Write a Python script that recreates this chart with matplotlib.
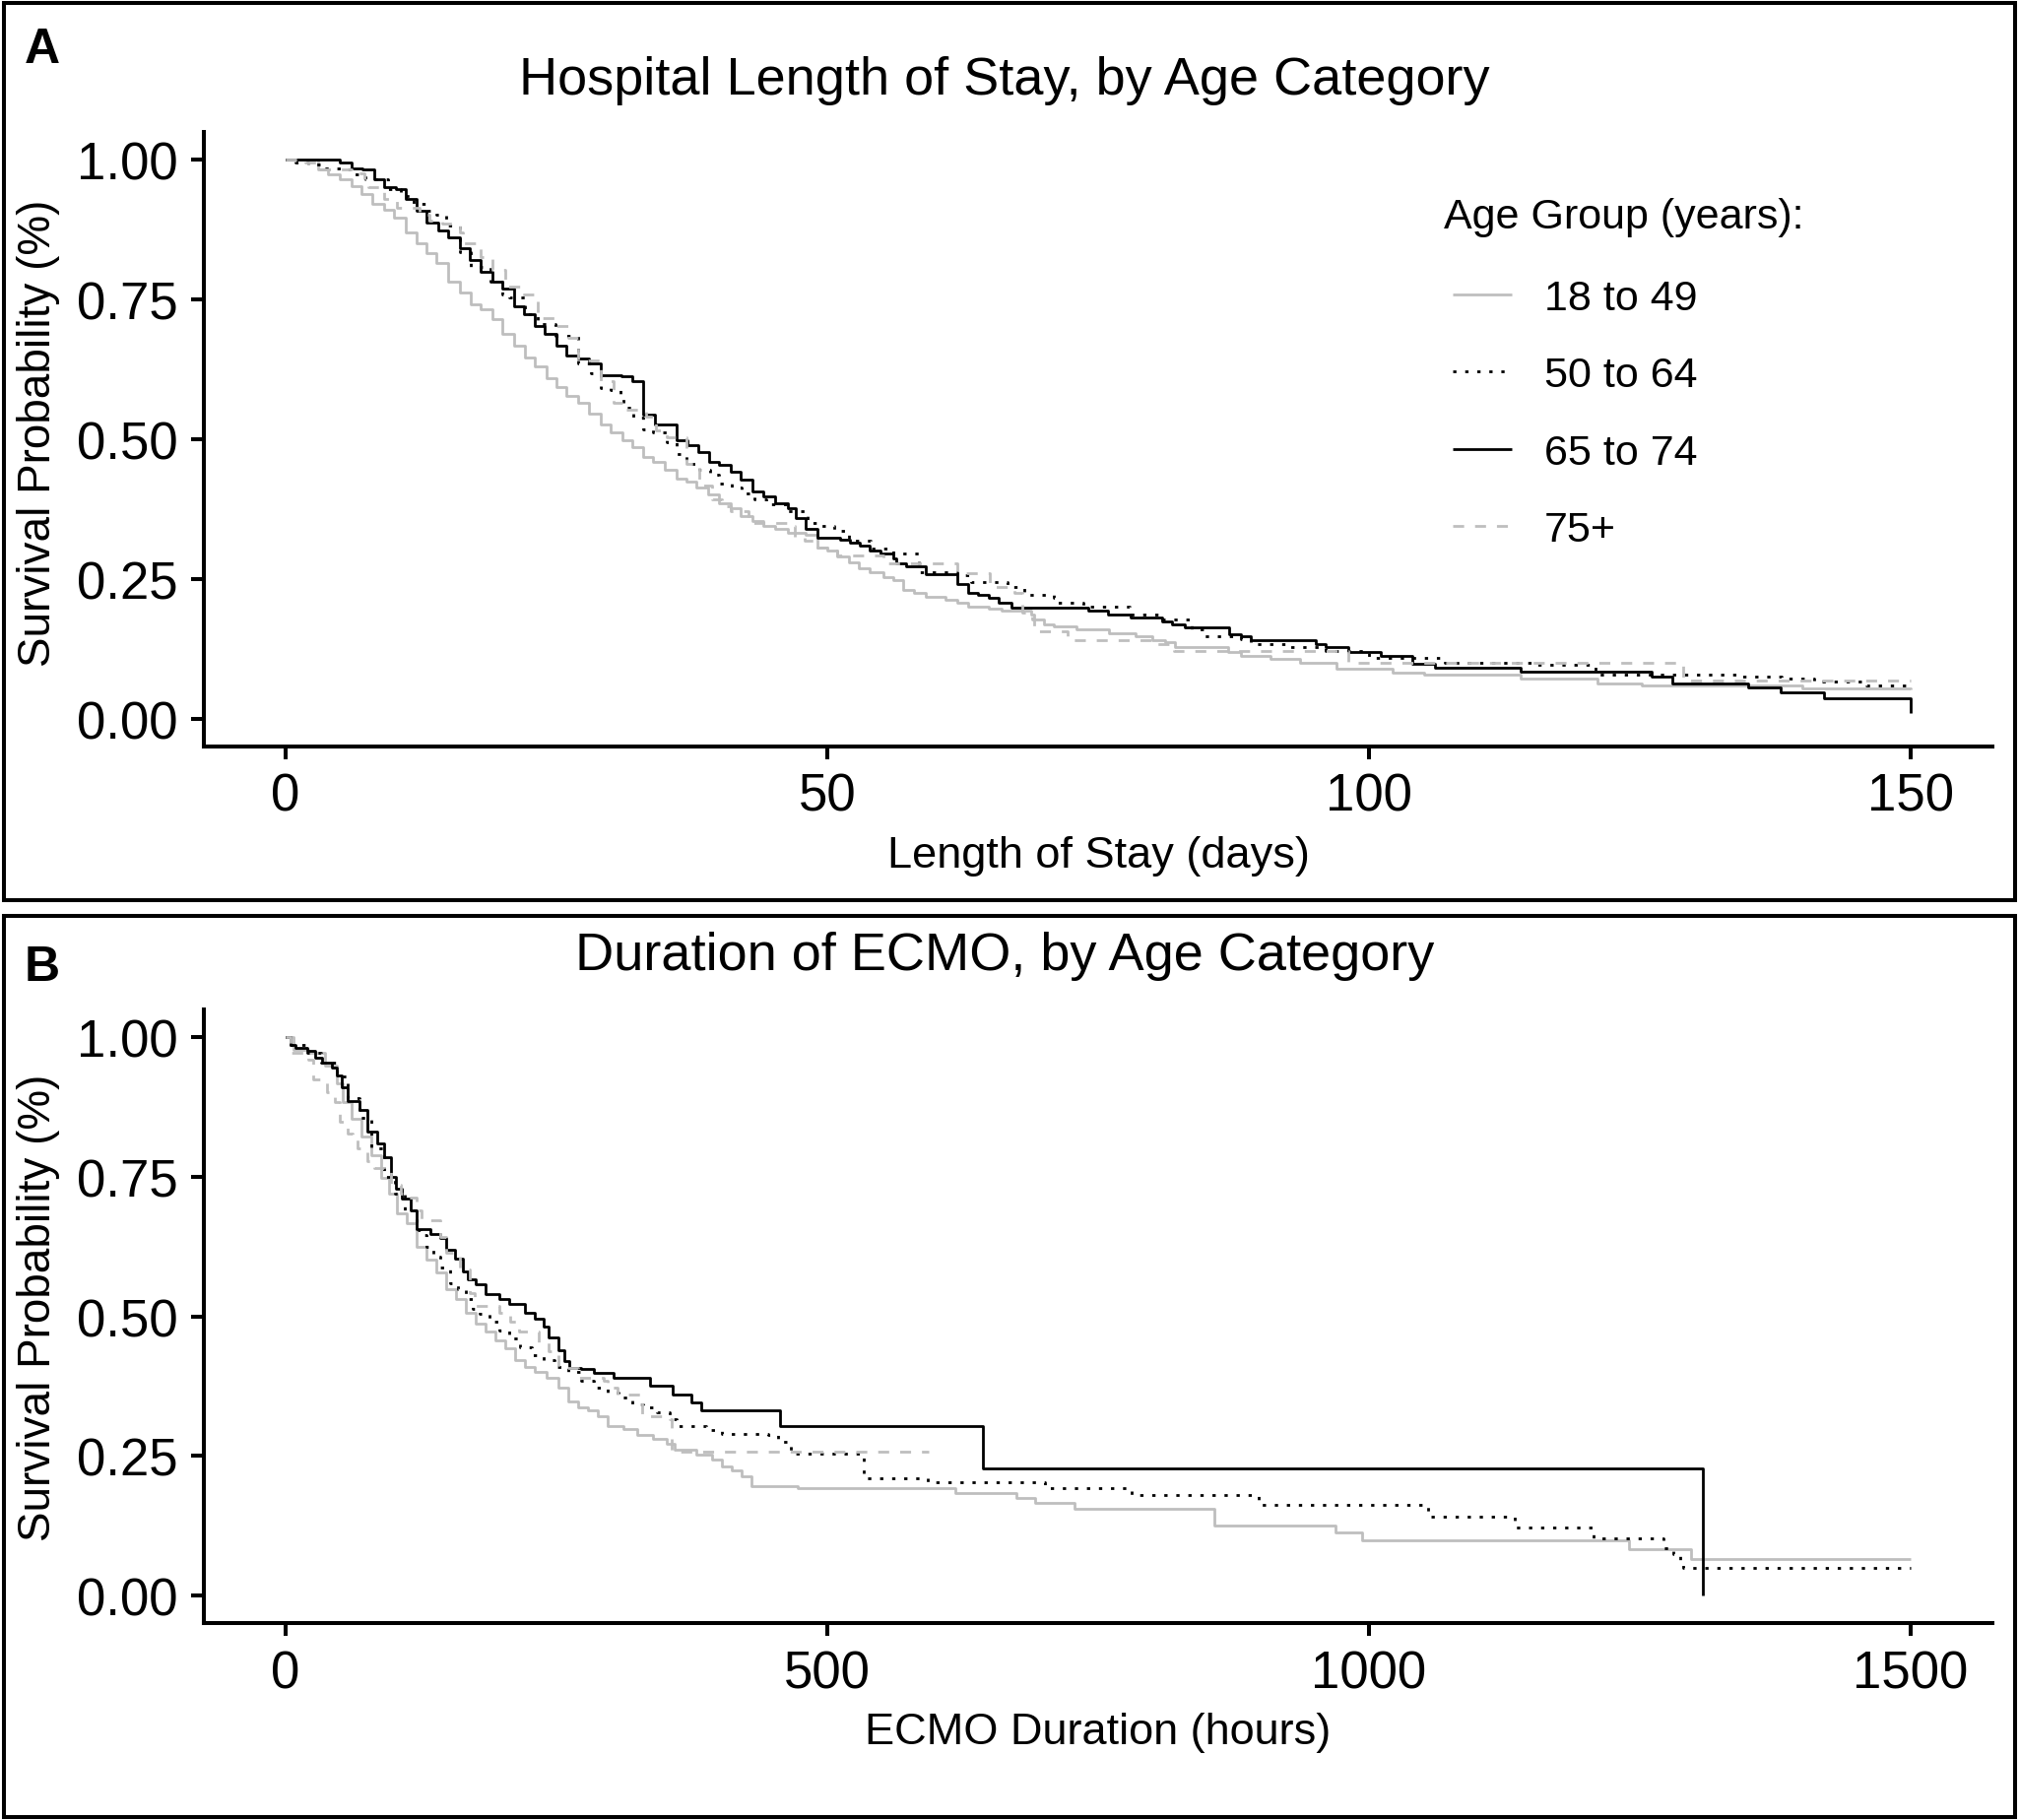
import matplotlib
matplotlib.use("Agg")
import matplotlib.pyplot as plt
from matplotlib.patches import Rectangle

plt.rcParams['font.family'] = ['Liberation Sans', 'DejaVu Sans']

# Groupes d'âge et styles
groupes = ["18 to 49", "50 to 64", "65 to 74", "75+"]
couleurs = ["#BEBEBE", "#000000", "#000000", "#BEBEBE"]
styles = ["-", (0, (1.2, 3.2)), "-", (0, (4, 4))]

# Panel A : durée d'hospitalisation (jours), paires (temps, survie)
los_18_49 = [(0, 1.0), (3, 0.982), (3.9, 0.973), (5, 0.964), (6.1, 0.952), (7, 0.938), (8, 0.92),
             (9.1, 0.911), (10, 0.897), (11.1, 0.87), (12.1, 0.85), (13, 0.832), (13.9, 0.815),
             (15, 0.782), (16.1, 0.762), (17.1, 0.741), (18, 0.733), (19.1, 0.715), (20, 0.688),
             (21.1, 0.668), (22.1, 0.647), (23, 0.63), (24.1, 0.609), (25, 0.594), (25.9, 0.577),
             (27, 0.565), (28, 0.545), (29.1, 0.527), (30, 0.512), (31.1, 0.498), (32, 0.486),
             (33, 0.468), (33.9, 0.46), (35, 0.445), (36.1, 0.43), (37, 0.424), (37.9, 0.413),
             (39, 0.401), (40, 0.386), (41.1, 0.377), (42, 0.363), (43.1, 0.354), (44.1, 0.345),
             (45.2, 0.339), (46.4, 0.333), (48, 0.33), (49.1, 0.306), (50, 0.301), (50.9, 0.29),
             (52, 0.28), (52.9, 0.269), (53.9, 0.263), (55.2, 0.254), (56.1, 0.248), (57, 0.231),
             (58, 0.225), (59.1, 0.219), (60.9, 0.213), (62, 0.207), (63, 0.201), (64.9, 0.198),
             (66.1, 0.193), (68.8, 0.187), (69.1, 0.178), (70, 0.169), (70.9, 0.166), (73, 0.16),
             (76, 0.154), (78.5, 0.148), (80, 0.14), (81.2, 0.137), (82.1, 0.128), (87, 0.119),
             (88.2, 0.113), (90.9, 0.107), (93.6, 0.101), (97, 0.09), (102.2, 0.083), (105.1, 0.079),
             (114, 0.073), (121.1, 0.063), (125.2, 0.059), (140, 0.055), (150, 0.052)]
los_50_64 = [(0, 1.0), (0.9, 0.994), (2.1, 0.991), (3.3, 0.985), (5.1, 0.982), (6.4, 0.973),
             (7.4, 0.964), (9.5, 0.947), (10.6, 0.935), (11.8, 0.92), (13, 0.908), (13.9, 0.902),
             (14.8, 0.882), (16.1, 0.835), (17.1, 0.808), (18.9, 0.782), (20, 0.759), (20.6, 0.753),
             (22.1, 0.723), (23.3, 0.706), (24.9, 0.685), (27, 0.635), (28.2, 0.618), (29.1, 0.591),
             (30, 0.588), (30.9, 0.577), (31.2, 0.556), (32.1, 0.539), (33, 0.518), (33.9, 0.512),
             (35.2, 0.495), (36.1, 0.474), (37, 0.456), (38.2, 0.445), (39.2, 0.436), (40, 0.421),
             (41.2, 0.413), (42.1, 0.404), (43.3, 0.392), (44.4, 0.383), (46.4, 0.371), (48.2, 0.351),
             (49.4, 0.345), (50.6, 0.336), (52, 0.318), (54, 0.305), (56.1, 0.295), (58.5, 0.263),
             (62, 0.257), (63.3, 0.245), (66.6, 0.236), (68.2, 0.222), (70.9, 0.216), (71.2, 0.207),
             (73.6, 0.201), (77.9, 0.187), (80.9, 0.178), (83.6, 0.16), (84.8, 0.148), (88.2, 0.142),
             (89.1, 0.134), (92.7, 0.128), (96, 0.122), (100, 0.11), (107, 0.1), (115.5, 0.096),
             (120.9, 0.079), (134, 0.076), (138.1, 0.072), (141.1, 0.066), (145.9, 0.06), (150, 0.056)]
los_65_74 = [(0, 1.0), (5, 0.994), (6.1, 0.985), (7.1, 0.982), (8.2, 0.964), (9.1, 0.95),
             (10.2, 0.947), (11.1, 0.929), (12.1, 0.908), (13, 0.888), (14.1, 0.873), (15, 0.861),
             (16.1, 0.841), (17, 0.82), (18, 0.8), (19.1, 0.782), (20, 0.77), (21.1, 0.738),
             (22, 0.724), (23, 0.703), (23.9, 0.688), (25, 0.668), (25.9, 0.65), (27, 0.644),
             (28, 0.636), (29.1, 0.615), (31, 0.612), (32, 0.603), (33, 0.544), (34.1, 0.527),
             (36.1, 0.498), (37.1, 0.489), (38.1, 0.477), (39.1, 0.46), (40, 0.454), (41.1, 0.442),
             (42, 0.428), (43.1, 0.407), (44.1, 0.398), (45.2, 0.386), (46.4, 0.377), (47.1, 0.36),
             (48, 0.339), (49.1, 0.324), (51.2, 0.321), (52.1, 0.316), (53, 0.31), (53.9, 0.301),
             (54.9, 0.295), (56.1, 0.287), (56.4, 0.278), (57.3, 0.272), (59.1, 0.258), (62, 0.242),
             (63, 0.225), (63.9, 0.222), (64.9, 0.216), (65.8, 0.207), (67, 0.199), (74.1, 0.193),
             (75.9, 0.187), (78, 0.181), (80.9, 0.175), (81.8, 0.169), (83, 0.163), (87.1, 0.151),
             (88.2, 0.148), (89.1, 0.14), (95.1, 0.134), (96, 0.128), (98.1, 0.119), (101.1, 0.113),
             (104, 0.098), (106.1, 0.091), (114, 0.084), (126.1, 0.075), (128, 0.064), (135, 0.056),
             (138, 0.047), (142, 0.037), (150, 0.011)]
los_75 = [(0, 1.0), (1.8, 0.994), (3, 0.982), (6.1, 0.976), (7.3, 0.964), (7.6, 0.95), (9.1, 0.929),
          (10.3, 0.914), (12.4, 0.902), (13.3, 0.891), (14.5, 0.885), (16.1, 0.87), (16.4, 0.85),
          (18, 0.826), (19.1, 0.803), (20.3, 0.773), (21.8, 0.759), (23.3, 0.717), (24.9, 0.703),
          (26.1, 0.682), (27, 0.641), (29.1, 0.603), (30.3, 0.565), (31.2, 0.553), (33.3, 0.541),
          (34.2, 0.515), (35.2, 0.503), (37, 0.456), (38.2, 0.418), (39.4, 0.392), (40.3, 0.38),
          (41.1, 0.371), (42.7, 0.351), (46.4, 0.345), (47, 0.324), (47.9, 0.318), (49.1, 0.306),
          (50, 0.301), (50.9, 0.292), (55.2, 0.278), (62, 0.26), (65, 0.236), (67.3, 0.225),
          (68, 0.19), (68.9, 0.178), (69.1, 0.157), (72.2, 0.14), (80, 0.134), (82, 0.122),
          (98.1, 0.101), (129, 0.069), (150, 0.069)]

# Panel B : durée d'ECMO (heures)
ecmo_18_49 = [(0, 1.0), (7.6, 0.977), (21.2, 0.971), (36.4, 0.948), (47, 0.918), (53, 0.883),
              (60.6, 0.854), (69.7, 0.822), (78.8, 0.789), (87.9, 0.748), (95.5, 0.719), (103, 0.684),
              (112.1, 0.666), (121.2, 0.625), (130.3, 0.601), (139.4, 0.578), (148.5, 0.548),
              (157.6, 0.531), (166.7, 0.507), (175.8, 0.487), (184.8, 0.472), (193.9, 0.457),
              (203, 0.443), (212.1, 0.422), (221.2, 0.41), (230.3, 0.401), (240.9, 0.39),
              (251.5, 0.372), (260.6, 0.348), (269.7, 0.337), (278.8, 0.331), (287.9, 0.322),
              (297, 0.304), (312.1, 0.299), (324.2, 0.287), (339.4, 0.281), (351.5, 0.272),
              (359.1, 0.261), (378.8, 0.252), (393.9, 0.243), (403, 0.231), (412.1, 0.225),
              (421.2, 0.214), (430.3, 0.196), (473, 0.192), (618.3, 0.184), (674.4, 0.175),
              (691.6, 0.166), (728, 0.156), (857.4, 0.126), (969, 0.113), (993.3, 0.099),
              (1240, 0.083), (1297.4, 0.066), (1500, 0.066)]
ecmo_50_64 = [(0, 1.0), (4.5, 0.986), (20, 0.972), (33, 0.955), (47, 0.93), (57, 0.89), (68, 0.855),
              (79, 0.80), (91, 0.75), (101, 0.72), (110, 0.69), (121, 0.655), (124.2, 0.645),
              (130.3, 0.625), (136.4, 0.607), (142.4, 0.587), (151.5, 0.56), (159.1, 0.548),
              (166.7, 0.531), (172.7, 0.513), (178.8, 0.505), (187.9, 0.49), (197, 0.475), (206, 0.46),
              (216.7, 0.445), (227.3, 0.431), (237.9, 0.422), (248.5, 0.41), (260.6, 0.401),
              (272.7, 0.384), (284.8, 0.372), (297, 0.363), (307.6, 0.354), (319.7, 0.343),
              (330.3, 0.337), (342.4, 0.328), (354.5, 0.316), (360.6, 0.304), (388, 0.296),
              (403, 0.29), (445.5, 0.287), (454.5, 0.275), (466, 0.254), (533.9, 0.21),
              (592.8, 0.203), (701.3, 0.192), (780.7, 0.18), (898.6, 0.162), (1054.8, 0.142),
              (1134.2, 0.122), (1207.6, 0.103), (1271.4, 0.084), (1281, 0.075), (1287.4, 0.055),
              (1290, 0.05), (1500, 0.05)]
ecmo_65_74 = [(0, 1.0), (4.5, 0.986), (9.1, 0.98), (19.7, 0.975), (27.3, 0.963), (33.3, 0.954),
              (42.4, 0.945), (47, 0.931), (51.5, 0.91), (57.6, 0.886), (68.2, 0.869), (75.8, 0.831),
              (84.8, 0.81), (90.9, 0.784), (97, 0.749), (101.5, 0.728), (107.6, 0.71), (115.2, 0.69),
              (121.2, 0.657), (133.3, 0.648), (142.4, 0.64), (148.5, 0.619), (156.1, 0.604),
              (163.6, 0.58), (168.2, 0.566), (175.8, 0.557), (184.8, 0.54), (197, 0.531),
              (206, 0.522), (221.2, 0.507), (230.3, 0.496), (237.9, 0.481), (242.4, 0.463),
              (251.5, 0.44), (257.6, 0.42), (262.1, 0.408), (272.7, 0.405), (284.8, 0.399),
              (303, 0.39), (336.4, 0.375), (357.6, 0.36), (375, 0.345), (383.3, 0.331),
              (456, 0.303), (644, 0.228), (1308, 0.0)]
ecmo_75 = [(0, 1.0), (4.5, 0.971), (21.2, 0.959), (25.8, 0.924), (38, 0.901), (45.5, 0.883),
           (50, 0.848), (57.6, 0.827), (62.1, 0.822), (66.7, 0.801), (75.8, 0.777), (81.8, 0.765),
           (90.9, 0.76), (97, 0.736), (106.1, 0.719), (110.6, 0.713), (121.2, 0.689), (125.8, 0.672),
           (142.4, 0.642), (148.5, 0.613), (160.6, 0.583), (169.7, 0.542), (174.2, 0.519),
           (197, 0.507), (207.6, 0.49), (215.2, 0.472), (233.3, 0.454), (242.4, 0.437),
           (251.5, 0.408), (269.7, 0.39), (293.9, 0.384), (297, 0.372), (306, 0.36),
           (328.8, 0.322), (354.5, 0.316), (356.1, 0.258), (594, 0.258)]

yticks = [0.0, 0.25, 0.5, 0.75, 1.0]
ytick_labels = ["0.00", "0.25", "0.50", "0.75", "1.00"]

fig = plt.figure(figsize=(20.5, 18.49), dpi=100)
W, H = 2050, 1849


def px(x, y):
    # pixels (origine en haut à gauche) -> fraction de figure
    return x / W, 1 - y / H


def tracer(ax, series, xmax, xticks):
    for data, c, ls in zip(series, couleurs, styles):
        t = [p[0] for p in data]
        s = [p[1] for p in data]
        ax.step(t, s, where="post", color=c, linestyle=ls, lw=2.0,
                solid_capstyle="butt", dash_capstyle="butt")
    ax.set_xlim(-0.05 * xmax, 1.05 * xmax)
    ax.set_ylim(-0.05, 1.05)
    ax.set_xticks(xticks)
    ax.set_yticks(yticks)
    ax.set_yticklabels(ytick_labels)
    for side in ["top", "right"]:
        ax.spines[side].set_visible(False)
    for side in ["left", "bottom"]:
        ax.spines[side].set_linewidth(2.9)
    ax.tick_params(axis="both", width=2.9, length=9.4, labelsize=38, color="black")
    ax.tick_params(axis="y", pad=10)
    ax.tick_params(axis="x", pad=9)


axA = fig.add_axes([0.1012, 0.5893, 0.8854, 0.3379])
axB = fig.add_axes([0.1012, 0.1079, 0.8854, 0.3374])

tracer(axA, [los_18_49, los_50_64, los_65_74, los_75], 150, [0, 50, 100, 150])
tracer(axB, [ecmo_18_49, ecmo_50_64, ecmo_65_74, ecmo_75], 1500, [0, 500, 1000, 1500])

# Légende (titre placé à part, aligné à gauche)
fig.text(*px(1466, 221), "Age Group (years):", fontsize=31, ha="left", va="center")
handles = axA.get_lines()[:4]
leg = axA.legend(handles, groupes, frameon=False,
                 loc="upper left", bbox_to_anchor=px(1475, 284), bbox_transform=fig.transFigure,
                 fontsize=31, handlelength=1.4, handletextpad=0.75,
                 labelspacing=0.89, borderpad=0, borderaxespad=0)

# Titres, étiquettes d'axes
fig.text(*px(1020, 82), "Hospital Length of Stay, by Age Category", fontsize=39, ha="center", va="center")
fig.text(*px(1020, 971), "Duration of ECMO, by Age Category", fontsize=39, ha="center", va="center")
fig.text(*px(1115, 870), "Length of Stay (days)", fontsize=32.5, ha="center", va="center")
fig.text(*px(1115, 1760), "ECMO Duration (hours)", fontsize=32.5, ha="center", va="center")
fig.text(*px(39, 440), "Survival Probability (%)", fontsize=33, rotation=90, ha="center", va="center")
fig.text(*px(39, 1328), "Survival Probability (%)", fontsize=33, rotation=90, ha="center", va="center")
fig.text(*px(43, 51), "A", fontsize=36, fontweight="bold", ha="center", va="center")
fig.text(*px(43, 983), "B", fontsize=36, fontweight="bold", ha="center", va="center")

# Cadres des panneaux
for y0, y1 in [(4, 915), (931, 1846)]:
    fig.add_artist(Rectangle((4 / W, 1 - y1 / H), 2042 / W, (y1 - y0) / H,
                             transform=fig.transFigure, fill=False, lw=2.9, edgecolor="black"))

fig.savefig("out.png", dpi=100)
